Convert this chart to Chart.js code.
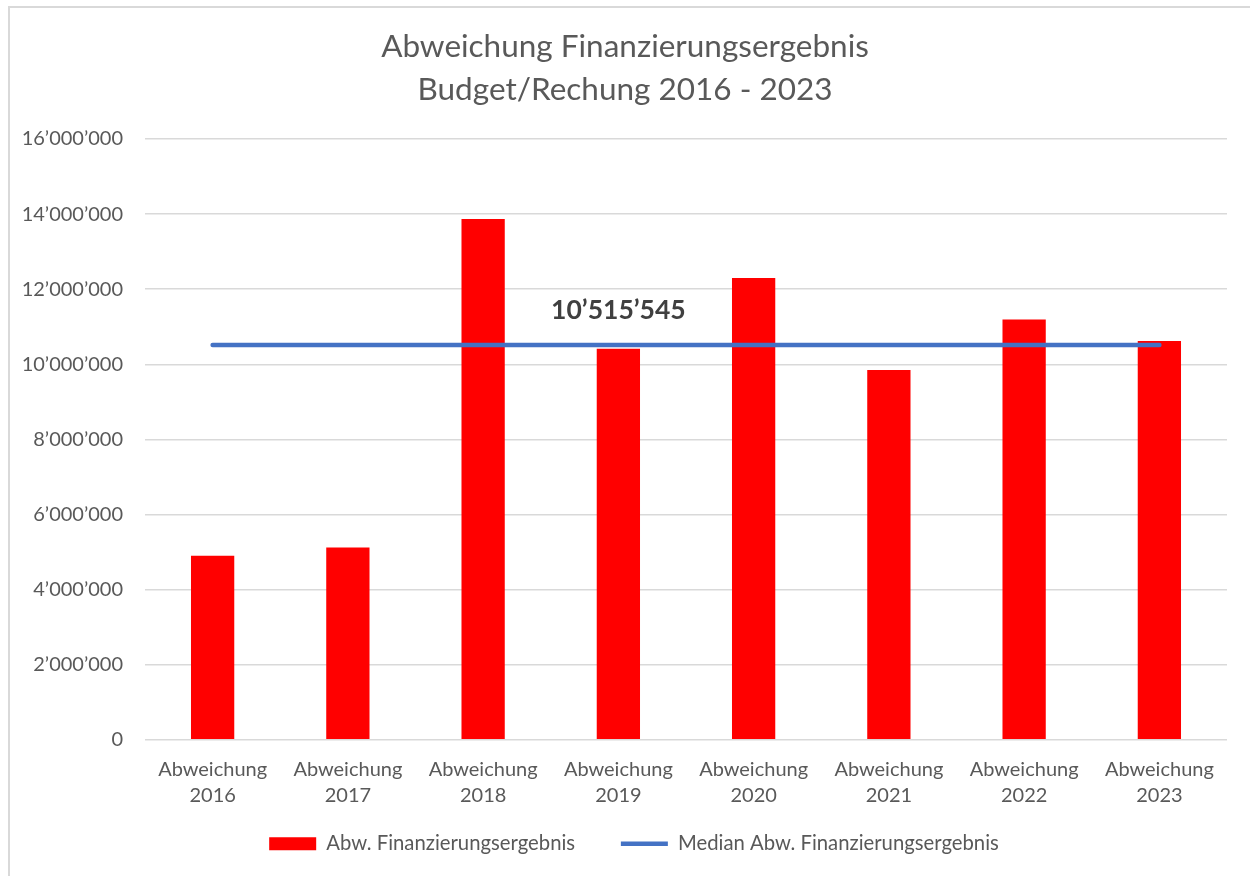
<!DOCTYPE html>
<html>
<head>
<meta charset="utf-8">
<script src="https://cdn.jsdelivr.net/npm/chart.js@4.4.0/dist/chart.umd.min.js"></script>
<style>
  body { margin: 0; background: #fff; }
  #wrap { position: relative; width: 1250px; height: 876px; overflow: hidden; }
  #frame { position: absolute; left: 8px; top: 6px; width: 1260px; height: 890px;
           border-top: 2px solid #d9d9d9; border-left: 2px solid #d9d9d9; }
  canvas { position: absolute; left: 0; top: 0; }
</style>
</head>
<body>
<div id="wrap">
  <div id="frame"></div>
  <canvas id="chart" width="1250" height="876"></canvas>
</div>
<script>
// Data
const categories = [
  ['Abweichung', '2016'], ['Abweichung', '2017'], ['Abweichung', '2018'], ['Abweichung', '2019'],
  ['Abweichung', '2020'], ['Abweichung', '2021'], ['Abweichung', '2022'], ['Abweichung', '2023']
];
const abweichung = [4900000, 5120000, 13870000, 10410000, 12300000, 9850000, 11190000, 10621090];
const medianLine = [10515545, 10515545, 10515545, 10515545, 10515545, 10515545, 10515545, 10515545];
const yTicks = [0, 2000000, 4000000, 6000000, 8000000, 10000000, 12000000, 14000000, 16000000];
const labelIndex = 3; // median value label sits above the 2019 category

const textColor = '#595959';
const fontFamily = 'Lato, "Open Sans", sans-serif';

// Swiss-style thousands separator
function formatNumber(v) {
    return String(Math.round(v)).replace(/\B(?=(\d{3})+(?!\d))/g, '\u2019');
}

// Draw the median value above the line
const medianLabel = {
    id: 'medianLabel',
    afterLayout(chart) {
        // legend sits a little right of centre in the original
        chart.legend.left += 9;
        chart.legend.right += 9;
    },
    afterDatasetsDraw(chart) {
        const meta = chart.getDatasetMeta(0);
        const pt = meta.data[labelIndex];
        const ctx = chart.ctx;
        ctx.save();
        ctx.font = 'bold 26.5px ' + fontFamily;
        ctx.fillStyle = '#404040';
        ctx.textAlign = 'center';
        ctx.textBaseline = 'middle';
        ctx.fillText(formatNumber(medianLine[labelIndex]), pt.x, pt.y - 34);
        ctx.restore();
    }
};

document.addEventListener('DOMContentLoaded', function() {
    const ctx = document.getElementById('chart').getContext('2d');
    new Chart(ctx, {
        data: {
            labels: categories,
            datasets: [
                {
                    type: 'line',
                    label: 'Median Abw. Finanzierungsergebnis',
                    data: medianLine,
                    borderColor: '#4472C4',
                    backgroundColor: '#4472C4',
                    borderWidth: 4.5,
                    borderCapStyle: 'round',
                    pointRadius: 0,
                    pointHoverRadius: 0
                },
                {
                    type: 'bar',
                    label: 'Abw. Finanzierungsergebnis',
                    data: abweichung,
                    backgroundColor: '#FF0000',
                    borderWidth: 0,
                    categoryPercentage: 1,
                    barPercentage: 0.32
                }
            ]
        },
        options: {
            responsive: false,
            animation: false,
            layout: { padding: { left: 23, right: 23, top: 25.5, bottom: 12 } },
            scales: {
                x: {
                    grid: { display: false, drawTicks: true, tickLength: 17 },
                    border: { display: false },
                    ticks: {
                        color: textColor,
                        font: { family: fontFamily, size: 20, lineHeight: 1.3 },
                        padding: 0,
                        maxRotation: 0
                    }
                },
                y: {
                    min: 0,
                    max: 16000000,
                    afterFit(scale) { scale.width = 122; },
                    afterBuildTicks(scale) { scale.ticks = yTicks.map(v => ({ value: v })); },
                    grid: { color: '#d9d9d9', lineWidth: 1.5, drawTicks: false },
                    border: { display: false },
                    ticks: {
                        color: textColor,
                        font: { family: fontFamily, size: 20 },
                        padding: 22,
                        callback: v => formatNumber(v)
                    }
                }
            },
            plugins: {
                title: {
                    display: true,
                    text: ['Abweichung Finanzierungsergebnis', 'Budget/Rechung 2016 - 2023'],
                    color: textColor,
                    font: { family: fontFamily, size: 31.5, weight: 'normal', lineHeight: 1.365 },
                    padding: { top: 0, bottom: 27.5 }
                },
                legend: {
                    position: 'bottom',
                    reverse: true,
                    labels: {
                        color: textColor,
                        font: { family: fontFamily, size: 20.3 },
                        usePointStyle: true,
                        pointStyleWidth: 47,
                        boxHeight: 13,
                        padding: 25,
                        generateLabels(chart) {
                            const items = Chart.defaults.plugins.legend.labels.generateLabels(chart);
                            items.forEach(it => {
                                if (it.datasetIndex === 0) { it.pointStyle = 'line'; it.lineWidth = 4.5; }
                                else {
                                    it.pointStyle = 'rect'; it.lineWidth = 0;
                                    it.text = it.text + '    '; // wider gap before the next entry
                                }
                            });
                            return items;
                        }
                    }
                },
                tooltip: { enabled: false }
            }
        },
        plugins: [medianLabel]
    });
});
</script>
</body>
</html>
